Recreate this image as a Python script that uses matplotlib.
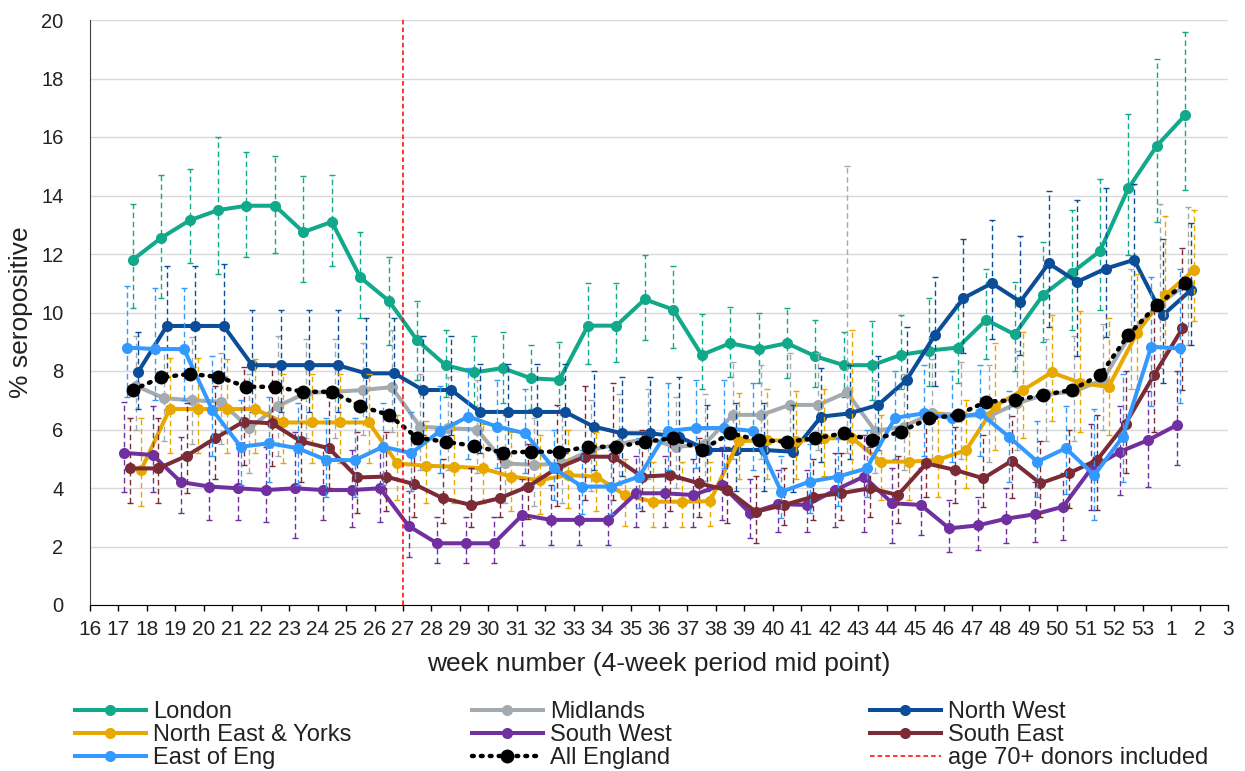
import numpy as np
import matplotlib
matplotlib.use("Agg")
import matplotlib.pyplot as plt
from matplotlib.lines import Line2D

plt.rcParams["font.family"] = ["Liberation Sans", "DejaVu Sans"]

# category axis: week labels (4-week period mid point)
week_labels = [str(w) for w in range(16, 54)] + ["1", "2", "3"]
# weeks that carry an estimate (17..53, then week 1)
weeks = list(range(17, 54)) + [1]

london = [11.8, 12.55, 13.15, 13.5, 13.65, 13.65, 12.75, 13.1, 11.2, 10.4, 9.05,
          8.2, 7.95, 8.1, 7.75, 7.7, 9.55, 9.55, 10.45, 10.1, 8.55,
          8.95, 8.75, 8.95, 8.5, 8.2, 8.2, 8.55, 8.7, 8.8, 9.75,
          9.25, 10.6, 11.35, 12.1, 14.25, 15.7, 16.75]
london_hi = [13.7, 14.7, 14.9, 16.0, 15.5, 15.35, 14.65, 14.7, 12.75, 11.9, 10.4,
             9.4, 9.2, 9.35, 8.9, 9.0, 11.0, 11.0, 11.95, 11.6, 9.95,
             10.2, 10.0, 10.15, 9.75, 9.35, 9.7, 9.9, 10.5, 10.3, 11.5,
             11.05, 12.4, 13.5, 14.55, 16.8, 18.65, 19.6]
london_lo = [10.15, 10.5, 11.7, 11.3, 11.9, 12.05, 11.05, 11.6, 9.8, 8.9, 7.7,
             7.1, 6.8, 6.9, 6.7, 6.6, 8.25, 8.3, 9.05, 8.8, 7.4,
             7.8, 7.6, 7.75, 7.45, 7.1, 7.0, 7.4, 7.5, 7.6, 8.4,
             8.0, 9.0, 9.4, 10.1, 11.95, 13.1, 14.2]

midlands = [7.5, 7.07, 7.0, 6.95, 6.04, 6.8, 7.25, 7.29, 7.35, 7.45, 6.1,
            6.04, 6.0, 4.84, 4.79, 4.84, 5.3, 5.5, 5.7, 5.4, 5.5,
            6.5, 6.5, 6.84, 6.84, 7.27, 5.95, 6.1, 6.55, 6.5, 6.45,
            6.9, 7.2, 7.3, 7.7, 9.3, 10.3, 11.0]
midlands_hi = [9.2, 8.8, 9.15, 8.6, 7.9, 9.2, 9.1, 9.1, 8.95, 9.4, 7.9,
               7.8, 7.7, 6.5, 6.4, 6.5, 7.0, 7.2, 7.4, 7.1, 7.2,
               8.3, 8.2, 8.6, 8.6, 15.0, 7.7, 7.9, 8.4, 8.3, 8.2,
               8.7, 9.1, 9.2, 9.6, 11.5, 13.7, 13.6]
midlands_lo = [6.0, 5.6, 5.5, 5.5, 4.5, 5.1, 5.7, 5.7, 5.8, 5.9, 4.6,
               4.6, 4.5, 3.5, 3.4, 3.5, 3.9, 4.1, 4.3, 4.0, 4.1,
               5.0, 5.0, 5.3, 5.3, 5.2, 4.5, 4.6, 5.0, 5.0, 4.9,
               5.3, 5.6, 5.6, 6.0, 7.4, 8.1, 8.9]

north_west = [7.98, 9.54, 9.54, 9.54, 8.2, 8.2, 8.2, 8.2, 7.92, 7.92, 7.35,
              7.35, 6.6, 6.6, 6.6, 6.6, 6.1, 5.87, 5.87, 5.75, 5.3,
              5.3, 5.3, 5.24, 6.44, 6.55, 6.84, 7.69, 9.23, 10.49, 11.0,
              10.37, 11.68, 11.05, 11.5, 11.8, 9.9, 10.77]
north_west_hi = [9.35, 11.6, 11.6, 11.65, 10.1, 10.1, 10.1, 10.1, 9.8, 9.8, 9.2,
                 9.2, 8.25, 8.25, 8.25, 8.25, 8.0, 7.8, 7.8, 7.8, 6.85,
                 6.9, 6.9, 6.85, 8.1, 8.2, 8.5, 9.5, 11.2, 12.5, 13.15,
                 12.6, 14.15, 13.85, 14.25, 14.4, 12.5, 13.05]
north_west_lo = [6.7, 7.8, 7.8, 7.8, 6.6, 6.6, 6.6, 6.6, 6.3, 6.3, 5.8,
                 5.8, 5.2, 5.2, 5.2, 5.2, 4.6, 4.4, 4.4, 4.3, 3.9,
                 3.9, 3.9, 3.85, 4.9, 5.0, 5.3, 6.1, 7.5, 8.6, 9.1,
                 8.55, 9.5, 8.5, 9.15, 9.4, 7.6, 8.9]

ne_yorks = [4.62, 6.7, 6.7, 6.7, 6.7, 6.24, 6.24, 6.24, 6.24, 4.84, 4.76,
            4.73, 4.67, 4.39, 4.27, 4.44, 4.39, 3.76, 3.53, 3.53, 3.55,
            5.6, 5.64, 5.6, 5.7, 5.7, 4.9, 4.9, 4.96, 5.3, 6.8,
            7.35, 7.95, 7.6, 7.45, 9.3, 10.6, 11.45]
ne_yorks_hi = [6.4, 8.45, 8.45, 8.4, 8.4, 7.9, 7.9, 7.9, 7.9, 6.5, 6.3,
               6.2, 6.2, 5.9, 5.8, 6.0, 5.9, 5.0, 4.9, 4.9, 4.9,
               7.25, 7.4, 7.3, 7.4, 9.4, 6.5, 6.5, 6.6, 7.0, 8.95,
               9.35, 9.9, 10.05, 9.8, 11.3, 13.3, 13.5]
ne_yorks_lo = [3.4, 5.2, 5.2, 5.2, 5.2, 4.85, 4.85, 4.85, 4.85, 3.6, 3.5,
               3.5, 3.5, 3.2, 3.1, 3.3, 3.2, 2.7, 2.65, 2.65, 2.7,
               4.3, 4.3, 4.3, 4.4, 4.2, 3.6, 3.6, 3.7, 4.0, 5.3,
               5.7, 6.3, 5.9, 5.8, 7.4, 8.6, 9.7]

south_west = [5.2, 5.13, 4.2, 4.05, 3.99, 3.93, 3.99, 3.93, 3.93, 3.99, 2.7,
              2.11, 2.11, 2.11, 3.08, 2.91, 2.91, 2.91, 3.82, 3.82, 3.76,
              4.1, 3.14, 3.45, 3.42, 3.93, 4.39, 3.48, 3.42, 2.62, 2.72,
              2.95, 3.1, 3.36, 4.67, 5.24, 5.64, 6.15]
south_west_hi = [6.95, 6.8, 5.75, 5.6, 5.5, 5.4, 5.9, 5.4, 5.3, 5.4, 3.9,
                 3.0, 3.0, 3.0, 4.3, 4.1, 4.1, 4.1, 5.1, 5.1, 5.0,
                 5.4, 4.3, 4.6, 4.6, 5.2, 5.8, 4.7, 4.7, 3.6, 3.7,
                 4.0, 4.2, 4.5, 6.2, 6.8, 7.3, 8.0]
south_west_lo = [3.87, 3.87, 3.13, 2.9, 2.9, 2.85, 2.28, 2.9, 2.68, 2.85, 1.65,
                 1.42, 1.42, 1.42, 2.05, 2.05, 2.05, 2.05, 2.68, 2.68, 2.68,
                 2.9, 2.28, 2.5, 2.5, 2.68, 2.5, 2.11, 2.39, 1.82, 1.88,
                 2.11, 2.17, 2.22, 3.25, 3.76, 4.05, 4.79]

south_east = [4.67, 4.67, 5.1, 5.7, 6.27, 6.21, 5.6, 5.36, 4.36, 4.39, 4.13,
              3.65, 3.42, 3.65, 4.05, 4.67, 5.07, 5.07, 4.39, 4.44, 4.16,
              3.93, 3.19, 3.42, 3.7, 3.82, 3.99, 3.76, 4.84, 4.62, 4.33,
              4.93, 4.16, 4.5, 4.96, 6.2, 7.86, 9.46]
south_east_hi = [6.4, 6.4, 6.9, 7.5, 8.15, 8.15, 7.4, 7.1, 5.9, 5.9, 5.6,
                 5.0, 4.7, 5.0, 5.5, 6.85, 7.5, 7.6, 6.0, 6.0, 5.7,
                 5.4, 4.4, 4.7, 5.0, 5.2, 5.4, 5.1, 6.3, 6.1, 5.8,
                 6.45, 5.6, 6.0, 6.5, 8.0, 10.2, 12.2]
south_east_lo = [3.48, 3.48, 3.82, 4.3, 4.8, 4.75, 4.2, 4.0, 3.15, 3.2, 3.0,
                 2.8, 2.68, 3.0, 2.95, 3.4, 3.6, 3.6, 3.2, 3.2, 3.0,
                 2.8, 2.11, 2.74, 2.9, 2.9, 3.0, 2.8, 3.7, 3.5, 3.36,
                 3.65, 3.0, 3.3, 3.25, 4.5, 5.9, 7.35]

east_eng = [8.8, 8.75, 8.75, 6.67, 5.41, 5.53, 5.36, 4.96, 4.95, 5.41, 5.19,
            5.95, 6.44, 6.1, 5.87, 4.67, 4.05, 4.05, 4.39, 5.95, 6.05,
            6.05, 5.95, 3.87, 4.22, 4.39, 4.67, 6.4, 6.55, 6.38, 6.55,
            5.75, 4.9, 5.36, 4.44, 5.75, 8.83, 8.77]
east_eng_hi = [10.9, 10.85, 10.85, 8.5, 7.0, 7.1, 6.9, 6.4, 6.4, 6.9, 6.6,
               7.5, 8.1, 7.7, 7.4, 6.0, 5.3, 5.3, 5.7, 7.6, 7.7,
               7.7, 7.6, 5.1, 5.5, 5.7, 6.0, 8.0, 8.2, 8.0, 8.2,
               7.3, 6.3, 6.8, 6.7, 7.9, 11.2, 11.5]
east_eng_lo = [7.1, 7.0, 7.0, 5.1, 4.1, 4.2, 4.1, 3.7, 3.7, 4.1, 3.9,
               4.5, 5.0, 4.7, 4.5, 3.6, 3.1, 3.1, 3.3, 4.6, 4.7,
               4.7, 4.6, 2.96, 3.13, 3.4, 3.7, 5.0, 5.1, 4.9, 5.1,
               4.2, 3.7, 3.8, 2.9, 4.2, 6.8, 6.9]

all_england = [7.35, 7.78, 7.9, 7.8, 7.46, 7.46, 7.29, 7.29, 6.8, 6.5, 5.72,
               5.58, 5.44, 5.21, 5.24, 5.24, 5.41, 5.41, 5.58, 5.7, 5.3,
               5.87, 5.64, 5.58, 5.7, 5.87, 5.64, 5.93, 6.38, 6.5, 6.95,
               7.0, 7.18, 7.35, 7.86, 9.23, 10.26, 11.0]

# week in which age 70+ donors were first included
age70_week = "27"

regions = [
    ("London", london, london_lo, london_hi, "#12A88A", 0.0),
    ("Midlands", midlands, midlands_lo, midlands_hi, "#A3ABB0", 0.1),
    ("North West", north_west, north_west_lo, north_west_hi, "#0B4D98", 0.2),
    ("North East & Yorks", ne_yorks, ne_yorks_lo, ne_yorks_hi, "#E9A800", 0.3),
    ("South West", south_west, south_west_lo, south_west_hi, "#7030A0", -0.3),
    ("South East", south_east, south_east_lo, south_east_hi, "#7B2B36", -0.1),
    ("East of Eng", east_eng, east_eng_lo, east_eng_hi, "#3399FF", -0.2),
]

W, H = 1245, 771
fig = plt.figure(figsize=(W / 100, H / 100), dpi=100)
ax = fig.add_axes([90 / W, 1 - 605 / H, 1138 / W, 585 / H])

# position of each estimate: middle of its week slot on the category axis
xbase = np.array([week_labels.index(str(w)) for w in weeks]) + 0.5

handles = {}
for i, (name, vals, lo, hi, col, off) in enumerate(regions):
    v = np.array(vals)
    x = xbase + off
    z = 2 + i * 0.1
    eb = ax.errorbar(x, v, yerr=[v - np.array(lo), np.array(hi) - v], fmt="none",
                     ecolor=col, elinewidth=1.0, capsize=2.5, capthick=1.0,
                     zorder=z)
    eb[2][0].set_linestyle((0, (4, 2.5)))
    ln, = ax.plot(x, v, color=col, lw=2.9, marker="o", ms=8,
                  markeredgewidth=0, zorder=z + 0.05, label=name)
    handles[name] = ln

ae, = ax.plot(xbase, all_england, color="black", lw=3.2,
              linestyle=(0, (0.4, 1.6)), dash_capstyle="round",
              marker="o", ms=10, markeredgewidth=0, zorder=3.5,
              label="All England")
handles["All England"] = ae

xr = week_labels.index(age70_week)
ax.axvline(xr, color="#FF0000", lw=1.1, linestyle=(0, (3, 2)), zorder=6)
handles["age 70+ donors included"] = Line2D([], [], color="#FF0000", lw=1.1,
                                            linestyle=(0, (3, 2)))

ax.set_xlim(0, len(week_labels) - 1)
ax.set_ylim(0, 20)
ax.set_yticks(range(0, 21, 2))
ax.set_xticks(range(len(week_labels)))
ax.set_xticklabels(week_labels)
ax.yaxis.grid(True, color="#D9D9D9", lw=1.0)
ax.set_axisbelow(True)
for s in ("top", "right"):
    ax.spines[s].set_visible(False)
ax.spines["left"].set_color("#404040")
ax.spines["bottom"].set_color("black")
ax.tick_params(axis="y", length=0, pad=19, labelsize=14.5, labelcolor="#222222")
ax.tick_params(axis="x", length=4, width=1, pad=7, labelsize=15,
               labelcolor="#222222")
ax.set_xlabel("week number (4-week period mid point)", fontsize=19,
              color="#222222", labelpad=9)
ax.set_ylabel("% seropositive", fontsize=19, color="#222222", labelpad=6)

columns = [
    (["London", "North East & Yorks", "East of Eng"], 75),
    (["Midlands", "South West", "All England"], 472),
    (["North West", "South East", "age 70+ donors included"], 870),
]
for names, x0 in columns:
    fig.legend([handles[n] for n in names], names, loc="upper left",
               bbox_to_anchor=(x0 / W, 1 - 701 / H), frameon=False,
               fontsize=17, handlelength=3.0, handletextpad=0.3,
               labelspacing=0.05, borderpad=0, borderaxespad=0,
               labelcolor="#222222")

fig.savefig("out.png", dpi=100)
